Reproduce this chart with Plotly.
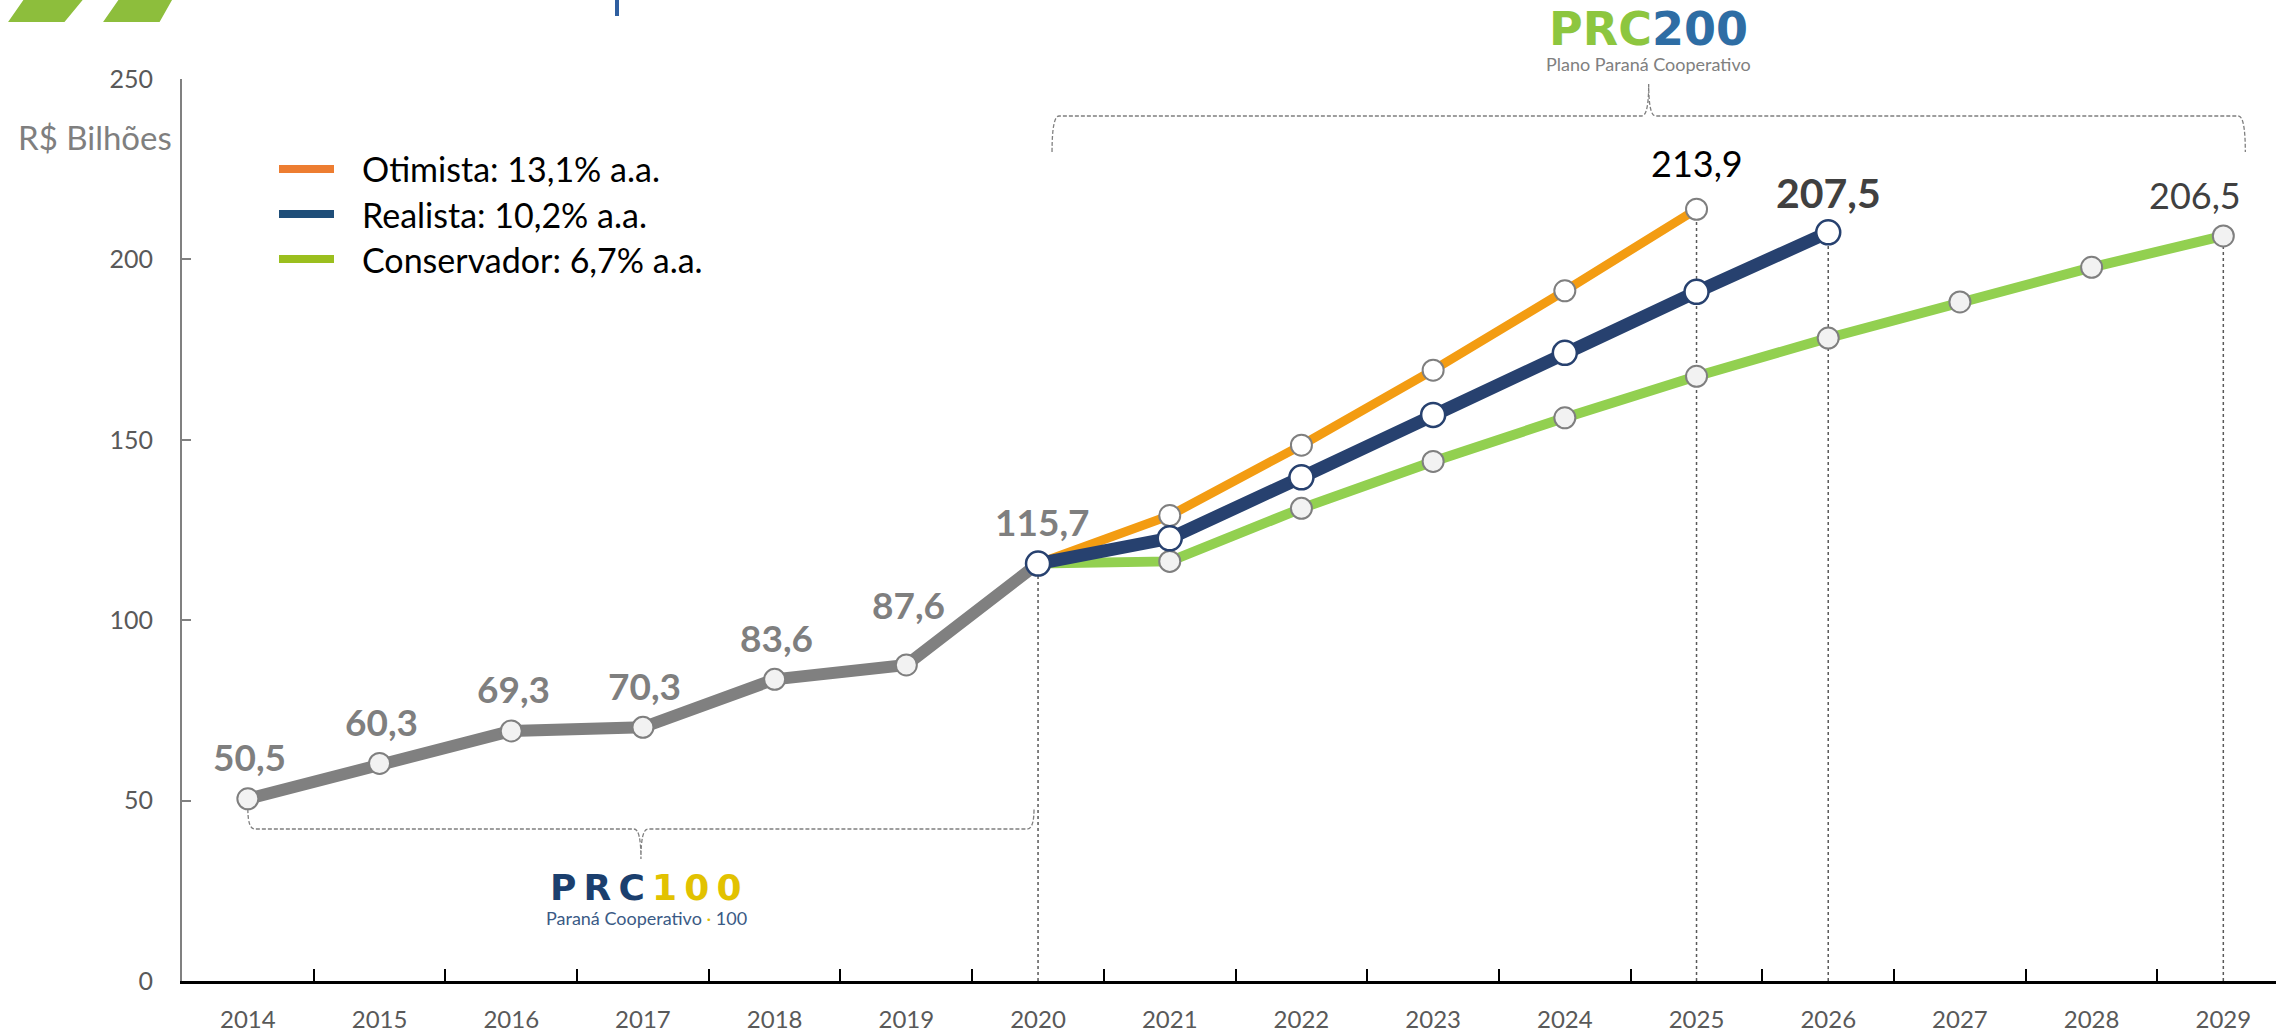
import plotly.graph_objects as go

# ---------------- data ----------------
years = [str(y) for y in range(2014, 2030)]

hist_years = years[0:7]
hist_values = [50.5, 60.3, 69.3, 70.3, 83.6, 87.6, 115.7]
hist_labels = ["50,5", "60,3", "69,3", "70,3", "83,6", "87,6", "115,7"]

otim_years = years[6:12]
otim_values = [115.7, 129.0, 148.5, 169.3, 191.3, 213.9]

real_years = years[6:13]
real_values = [115.7, 122.7, 139.6, 156.9, 174.1, 191.0, 207.5]

cons_years = years[6:16]
cons_values = [115.7, 116.3, 131.0, 144.0, 156.1, 167.6, 178.2, 188.2, 197.8, 206.5]

legend_labels = ["Otimista: 13,1% a.a.", "Realista: 10,2% a.a.", "Conservador: 6,7% a.a."]
legend_colors = ["#ED7D31", "#1F4E79", "#9BBF1E"]

y_ticks = [0, 50, 100, 150, 200, 250]

# ---------------- geometry ----------------
W, H = 2276, 1035
ML, MR, MT, MB = 182, 0, 79, 54
PW, PH = W - ML - MR, H - MT - MB
XR = [-0.5, 15.4]
YR = [0, 250]

def idx(yr):
    return years.index(yr)

def fx(px):
    return (px - ML) / PW

def fy(py):
    return (H - MB - py) / PH

def xpix(i):
    return ML + (i - XR[0]) * PW / (XR[1] - XR[0])

def ypix(v):
    return MT + PH * (1 - v / YR[1])

FONT = "Lato, 'Open Sans', sans-serif"
GRAY = "#808080"
TS = "\u2009"  # thin space for the wide logo lettering

fig = go.Figure()

# dotted drop lines
for yr, val in [(hist_years[-1], hist_values[-1]), (otim_years[-1], otim_values[-1]),
                (real_years[-1], real_values[-1]), (cons_years[-1], cons_values[-1])]:
    fig.add_shape(type="line", xref="x", yref="y", x0=idx(yr), x1=idx(yr), y0=0, y1=val,
                  line=dict(color="#595959", width=1.5, dash="dot"), layer="below")

marker_gray = dict(size=21, color="#F2F2F2", line=dict(color="#7F7F7F", width=2))

fig.add_trace(go.Scatter(x=hist_years, y=hist_values, mode="lines+markers",
                         line=dict(color=GRAY, width=12), marker=marker_gray,
                         showlegend=False))
fig.add_trace(go.Scatter(x=cons_years, y=cons_values, mode="lines+markers",
                         line=dict(color="#92D050", width=10), marker=marker_gray,
                         showlegend=False))
fig.add_trace(go.Scatter(x=otim_years, y=otim_values, mode="lines+markers",
                         line=dict(color="#F39C12", width=9),
                         marker=dict(size=21, color="#FFFFFF", line=dict(color="#7F7F7F", width=2)),
                         showlegend=False))
fig.add_trace(go.Scatter(x=real_years, y=real_values, mode="lines+markers",
                         line=dict(color="#27416F", width=13),
                         marker=dict(size=24, color="#FFFFFF", line=dict(color="#27416F", width=2.5)),
                         showlegend=False))

# data labels
for yr, val, lab in zip(hist_years, hist_values, hist_labels):
    shift = 60 if lab == "87,6" else 42
    fig.add_annotation(x=idx(yr), y=val, text=f"<b>{lab}</b>", showarrow=False, yshift=shift,
                       xshift=4 if lab == "115,7" else 2,
                       font=dict(family=FONT, size=37, color="#7F7F7F"))
fig.add_annotation(x=idx(otim_years[-1]), y=otim_values[-1], text="213,9", showarrow=False,
                   yshift=46, font=dict(family=FONT, size=36, color="#000000"))
fig.add_annotation(x=idx(real_years[-1]), y=real_values[-1], text="<b>207,5</b>", showarrow=False,
                   yshift=40, font=dict(family=FONT, size=41, color="#404040"))
fig.add_annotation(x=idx(cons_years[-1]), y=cons_values[-1], text="206,5", showarrow=False,
                   yshift=41, xshift=20, xanchor="right",
                   font=dict(family=FONT, size=36, color="#404040"))

# axis title
fig.add_annotation(xref="paper", yref="paper", x=fx(174), y=fy(137), text="R$ Bilhões",
                   showarrow=False, xanchor="right", yanchor="middle",
                   font=dict(family=FONT, size=33, color="#7F7F7F"))

# legend (manual)
for k, (lab, col) in enumerate(zip(legend_labels, legend_colors)):
    yy = 169 + 45 * k
    fig.add_shape(type="line", xref="paper", yref="paper", x0=fx(279), x1=fx(334),
                  y0=fy(yy), y1=fy(yy), line=dict(color=col, width=8))
    fig.add_annotation(xref="paper", yref="paper", x=fx(360), y=fy(yy), text=lab,
                       showarrow=False, xanchor="left", yanchor="middle",
                       font=dict(family=FONT, size=34, color="#000000"))

# brackets
def bracket(x0, x1, yh, yend, ynotch, r=7):
    xc = (x0 + x1) / 2
    pts = [
        f"M {fx(x0):.5f},{fy(yend):.5f}",
        f"Q {fx(x0):.5f},{fy(yh):.5f} {fx(x0 + r):.5f},{fy(yh):.5f}",
        f"L {fx(xc - r):.5f},{fy(yh):.5f}",
        f"Q {fx(xc):.5f},{fy(yh):.5f} {fx(xc):.5f},{fy(ynotch):.5f}",
        f"Q {fx(xc):.5f},{fy(yh):.5f} {fx(xc + r):.5f},{fy(yh):.5f}",
        f"L {fx(x1 - r):.5f},{fy(yh):.5f}",
        f"Q {fx(x1):.5f},{fy(yh):.5f} {fx(x1):.5f},{fy(yend):.5f}",
    ]
    return " ".join(pts)

fig.add_shape(type="path", xref="paper", yref="paper",
              path=bracket(xpix(0), xpix(6) - 4, 829, ypix(hist_values[0]) + 10, 859),
              line=dict(color="#7F7F7F", width=1.3, dash="4px,2px"))
fig.add_shape(type="path", xref="paper", yref="paper",
              path=bracket(xpix(6) + 14, xpix(15) + 22, 116, 152, 84),
              line=dict(color="#7F7F7F", width=1.3, dash="4px,2px"))

# logos as text
fig.add_annotation(xref="paper", yref="paper", x=fx(1648), y=fy(29),
                   text="<b><span style='color:#8DC63F'>PRC</span><span style='color:#2E6DA4'>200</span></b>",
                   showarrow=False, xanchor="center", yanchor="middle",
                   font=dict(family="DejaVu Sans", size=46))
fig.add_annotation(xref="paper", yref="paper", x=fx(1648), y=fy(64),
                   text="Plano Paraná Cooperativo", showarrow=False,
                   xanchor="center", yanchor="middle",
                   font=dict(family=FONT, size=18, color="#808080"))
fig.add_annotation(xref="paper", yref="paper", x=fx(646), y=fy(887),
                   text=("<b><span style='color:#1B3F6E'>" + TS.join("PRC") + "</span>" + TS +
                         "<span style='color:#E2C200'>" + TS.join("100") + "</span></b>"),
                   showarrow=False, xanchor="center", yanchor="middle",
                   font=dict(family="DejaVu Sans", size=36))
fig.add_annotation(xref="paper", yref="paper", x=fx(646), y=fy(918),
                   text="Paraná Cooperativo <span style='color:#E2C200'>·</span> 100",
                   showarrow=False, xanchor="center", yanchor="middle",
                   font=dict(family=FONT, size=18, color="#3A5A85"))

# decorative green marks (top-left) and title fragment
for (a, b, c, d) in [(26, 83, 64, 10), (121, 172, 159, 105)]:
    p = (f"M {fx(a):.5f},{fy(-2):.5f} L {fx(b):.5f},{fy(-2):.5f} "
         f"L {fx(c):.5f},{fy(21):.5f} L {fx(d):.5f},{fy(21):.5f} Z")
    fig.add_shape(type="path", xref="paper", yref="paper", path=p,
                  fillcolor="#8DBE3C", line=dict(color="#8DBE3C", width=2))
fig.add_shape(type="rect", xref="paper", yref="paper", x0=fx(615), x1=fx(619),
              y0=fy(16), y1=fy(-2), fillcolor="#2F5FA0", line=dict(width=0))

fig.update_layout(
    width=W, height=H,
    margin=dict(l=ML, r=MR, t=MT, b=MB, autoexpand=False),
    plot_bgcolor="white", paper_bgcolor="white",
    showlegend=False,
    font=dict(family=FONT),
    xaxis=dict(type="category", categoryorder="array", categoryarray=years,
               range=XR, tickson="boundaries", ticks="inside", ticklen=12,
               tickwidth=2, tickcolor="#000000", showline=True, linecolor="#000000",
               linewidth=3, showgrid=False, zeroline=False, automargin=False,
               ticklabelstandoff=15,
               tickfont=dict(family=FONT, size=24, color="#595959")),
    yaxis=dict(range=YR, tickvals=y_ticks, ticks="inside", ticklen=9, tickwidth=2,
               tickcolor=GRAY, showline=True, linecolor=GRAY, linewidth=2,
               showgrid=False, zeroline=False, automargin=False,
               ticklabelstandoff=22,
               tickfont=dict(family=FONT, size=25, color="#595959")),
)

fig.write_html("out.html", config={"displayModeBar": False},
               post_script="document.body.style.margin='0';")
